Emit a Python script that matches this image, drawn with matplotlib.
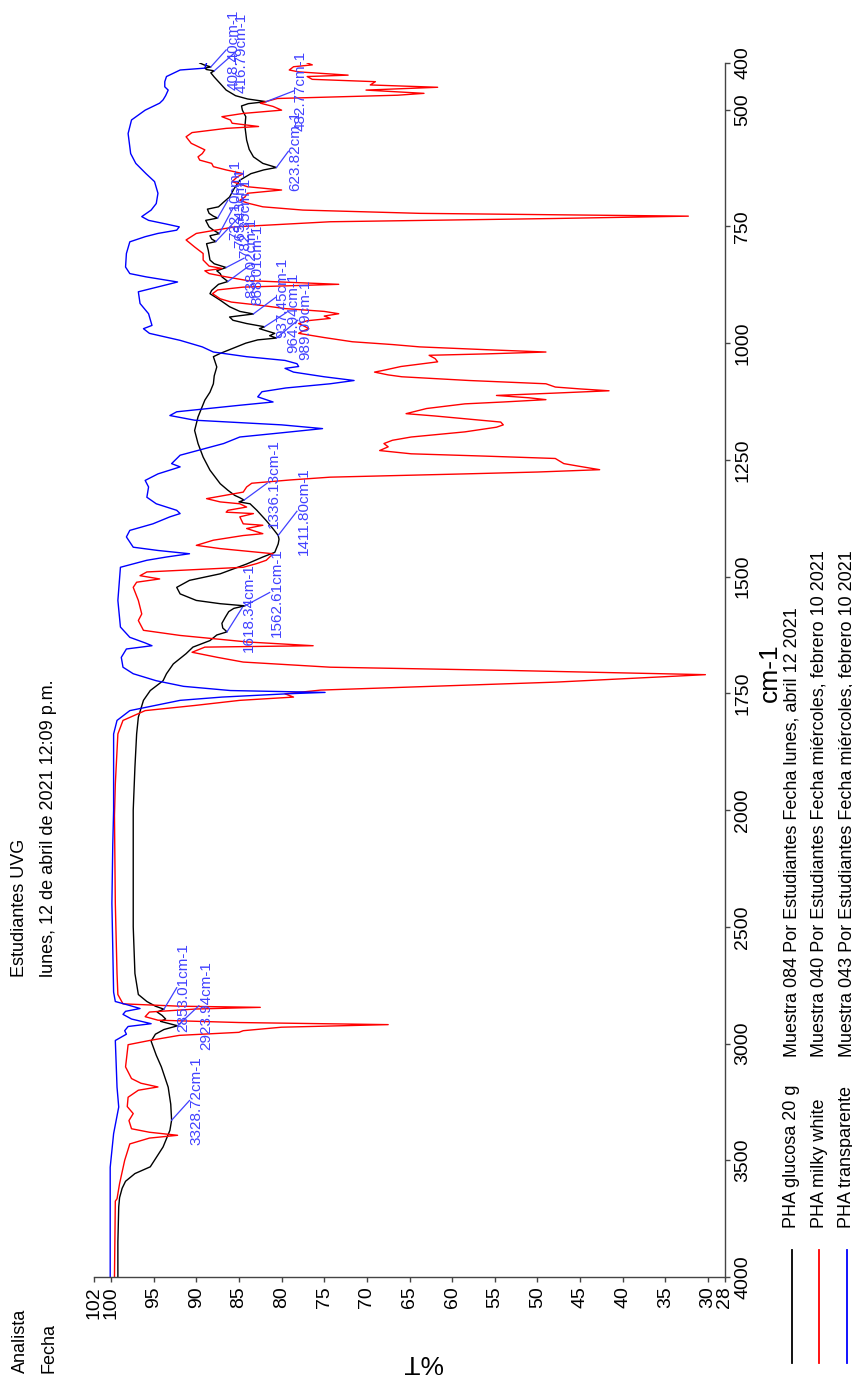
import numpy as np
import matplotlib.pyplot as plt
from matplotlib.lines import Line2D

plt.rcParams['font.family'] = ['Liberation Sans', 'DejaVu Sans']

# (cm-1, %T) for each sample
glucosa = np.array([
    (400, 89.6), (404, 89.1), (408.4, 88.3), (411, 89.0), (414, 88.8), (416.8, 87.9), (421, 88.3),
    (430, 87.9), (444, 87.2), (458, 86.5), (470, 85.4), (477, 84.0), (482.8, 81.8), (487, 83.9),
    (492, 84.7), (501, 84.6), (515, 84.2), (536, 84.3), (565, 84.1), (585, 83.8), (601, 83.3),
    (615, 82.2), (623.8, 80.6), (629, 82.1), (637, 83.6), (651, 84.9), (670, 85.6), (687, 86.1),
    (698, 86.8), (708, 87.4), (713, 88.7), (722, 88.5), (728, 88.0), (732.1, 87.5), (737, 88.9),
    (751, 88.5), (758, 88.0), (765.4, 87.3), (770, 88.4), (777, 88.2), (782.4, 87.7), (787, 88.8),
    (801, 88.6), (822, 88.4), (830, 87.9), (838, 86.5), (845, 87.6), (851, 87.2), (858, 87.0),
    (868, 86.3), (874, 87.4), (887, 88.2), (894, 88.4), (908, 87.2), (922, 86.1), (932, 84.9),
    (937.5, 83.3), (944, 86.1), (951, 85.7), (958, 84.1), (964.9, 82.0), (969, 82.6), (975, 81.5),
    (979, 80.8), (984, 81.4), (989.1, 80.6), (993, 82.8), (1000, 84.2), (1008, 85.3), (1022, 87.2),
    (1029, 88.0), (1040, 87.8), (1051, 87.6), (1070, 87.9), (1087, 88.0), (1105, 88.4), (1122, 89.0),
    (1158, 89.8), (1187, 90.2), (1215, 89.8), (1244, 89.2), (1272, 88.4), (1301, 87.2), (1315, 86.3),
    (1326, 85.5), (1331, 84.9), (1336.1, 84.4), (1340, 85.0), (1344, 83.7), (1358, 82.9), (1380, 81.8),
    (1400, 80.9), (1411.8, 80.4), (1420, 80.3), (1430, 80.4), (1448, 80.8), (1458, 82.2), (1473, 84.1),
    (1494, 87.2), (1508, 90.8), (1523, 92.3), (1537, 91.9), (1551, 90.0), (1558, 87.2), (1562.6, 84.3),
    (1568, 85.6), (1575, 86.2), (1587, 86.6), (1600, 87.0), (1610, 86.9), (1618.3, 86.4), (1625, 87.6),
    (1637, 88.4), (1651, 90.4), (1665, 91.2), (1687, 92.7), (1708, 93.5), (1723, 93.9), (1744, 95.4),
    (1765, 96.2), (1801, 96.8), (1837, 97.0), (1908, 97.2), (2000, 97.4), (2200, 97.4), (2500, 97.4),
    (2700, 97.2), (2790, 96.8), (2820, 95.8), (2840, 94.8), (2853, 93.8), (2865, 94.6), (2880, 94.0),
    (2895, 93.6), (2905, 94.2), (2923.9, 92.2), (2940, 93.8), (2960, 94.8), (2990, 95.3), (3050, 94.7),
    (3100, 94.1), (3187, 93.3), (3260, 93.0), (3328.7, 92.9), (3372, 93.1), (3443, 93.9), (3500, 94.9),
    (3528, 95.4), (3557, 97.2), (3590, 98.3), (3620, 98.7), (3660, 99.0), (3700, 99.1), (3850, 99.2),
    (4000, 99.2),
])

milky = np.array([
    (400, 77.0), (404, 76.4), (408, 78.6), (415, 79.1), (419, 78.0), (426, 72.2), (429, 77.0),
    (435, 76.4), (440, 69.0), (447, 69.6), (452, 61.7), (458, 70.1), (465, 63.3), (469, 66.4),
    (476, 80.5), (486, 82.5), (493, 81.0), (501, 80.0), (508, 84.5), (515, 87.0), (522, 86.0),
    (529, 85.8), (536, 82.7), (540, 86.5), (549, 90.5), (558, 91.2), (572, 90.6), (586, 89.0),
    (594, 89.3), (601, 89.8), (608, 89.6), (615, 88.2), (622, 88.0), (629, 86.5), (637, 84.5),
    (644, 85.2), (654, 85.8), (665, 84.0), (672, 80.0), (679, 84.0), (687, 84.3), (694, 84.9),
    (700, 84.0), (708, 82.2), (715, 77.5), (722, 63.8), (728, 32.3), (733, 47.9), (740, 74.3),
    (751, 85.5), (765, 90.0), (779, 91.2), (794, 90.2), (808, 89.2), (822, 89.2), (835, 88.5),
    (840, 87.0), (845, 89.0), (851, 88.5), (858, 86.5), (866, 84.0), (874, 73.3), (880, 84.5),
    (886, 87.5), (894, 88.1), (905, 87.2), (912, 85.9), (920, 82.0), (926, 79.6), (932, 75.0),
    (937, 73.3), (942, 75.0), (947, 74.3), (952, 77.0), (958, 78.0), (964, 77.3), (969, 76.8),
    (974, 77.5), (979, 78.0), (988, 75.0), (997, 71.7), (1003, 67.0), (1008, 63.8), (1014, 56.0),
    (1019, 49.0), (1023, 56.0), (1026, 62.7), (1033, 62.0), (1040, 61.7), (1050, 66.0), (1058, 68.0),
    (1062, 69.1), (1068, 67.5), (1072, 65.9), (1080, 58.0), (1087, 49.0), (1094, 47.9), (1098, 45.0),
    (1102, 41.6), (1107, 48.0), (1112, 54.8), (1117, 51.0), (1121, 49.0), (1126, 54.0), (1130, 58.5),
    (1140, 63.0), (1151, 65.4), (1156, 62.0), (1162, 58.5), (1169, 54.3), (1175, 54.0), (1180, 54.8),
    (1190, 58.5), (1201, 64.8), (1208, 67.0), (1215, 68.0), (1222, 67.5), (1230, 68.5), (1237, 64.8),
    (1242, 56.0), (1247, 47.9), (1258, 46.9), (1264, 45.0), (1271, 42.7), (1276, 50.0), (1280, 58.5),
    (1287, 74.3), (1293, 79.0), (1300, 83.5), (1308, 84.1), (1319, 84.5), (1333, 88.8), (1340, 87.2),
    (1344, 84.9), (1351, 84.1), (1358, 86.3), (1362, 86.5), (1365, 83.3), (1372, 84.9), (1387, 84.5),
    (1390, 82.2), (1397, 84.1), (1408, 82.2), (1412, 84.5), (1422, 88.0), (1433, 90.0), (1440, 87.2),
    (1451, 81.0), (1465, 81.8), (1472, 82.9), (1480, 84.5), (1490, 95.8), (1498, 96.6), (1505, 94.3),
    (1512, 97.0), (1523, 97.4), (1551, 96.8), (1580, 96.4), (1594, 96.8), (1615, 96.2), (1626, 91.9),
    (1633, 88.0), (1640, 84.0), (1648, 76.3), (1651, 89.0), (1662, 90.5), (1673, 87.5), (1683, 84.5),
    (1694, 74.3), (1701, 53.2), (1710, 30.3), (1726, 47.9), (1743, 75.4), (1751, 79.6), (1758, 78.6),
    (1765, 84.9), (1776, 90.2), (1787, 96.0), (1808, 98.6), (1837, 99.2), (1873, 99.3), (1944, 99.5),
    (2023, 99.6), (2400, 99.5), (2700, 99.3), (2790, 99.2), (2830, 98.6), (2840, 92.0), (2845, 82.5),
    (2852, 90.0), (2865, 95.5), (2885, 96.0), (2900, 94.5), (2910, 85.0), (2919, 67.5), (2930, 80.0),
    (2945, 84.5), (2952, 85.0), (2965, 92.0), (2987, 95.5), (3005, 98.0), (3100, 98.3), (3150, 97.6),
    (3170, 96.5), (3186, 94.5), (3200, 96.8), (3230, 98.0), (3270, 98.1), (3300, 97.4), (3330, 97.9),
    (3365, 97.6), (3380, 95.5), (3393, 92.2), (3405, 95.5), (3430, 97.8), (3500, 98.4), (3600, 99.0),
    (3665, 99.3), (3675, 99.5), (4000, 99.6),
])

transparente = np.array([
    (400, 88.8), (411, 89.0), (415, 91.9), (429, 93.5), (440, 93.7), (451, 93.7), (458, 93.3),
    (470, 93.6), (479, 93.9), (486, 94.3), (501, 96.0), (522, 97.6), (551, 98.0), (594, 97.7),
    (615, 97.1), (637, 95.9), (654, 94.9), (679, 94.5), (701, 94.7), (715, 95.3), (729, 96.4),
    (737, 95.6), (745, 93.5), (751, 92.0), (758, 92.3), (765, 94.5), (772, 96.0), (783, 97.8),
    (808, 98.2), (837, 98.3), (851, 97.8), (858, 95.9), (869, 92.2), (875, 93.5), (890, 96.8),
    (915, 96.6), (937, 95.6), (962, 95.2), (969, 96.2), (979, 95.5), (994, 91.9), (1008, 89.3),
    (1019, 88.0), (1029, 84.1), (1037, 79.6), (1044, 78.2), (1050, 78.0), (1054, 79.6), (1062, 78.6),
    (1072, 75.0), (1080, 71.5), (1087, 74.3), (1096, 79.5), (1104, 82.3), (1115, 82.8), (1126, 81.0),
    (1133, 84.9), (1147, 92.3), (1155, 93.1), (1165, 90.2), (1175, 80.0), (1183, 75.2), (1192, 80.0),
    (1201, 84.9), (1215, 86.8), (1240, 91.9), (1258, 92.9), (1265, 91.9), (1280, 94.5), (1294, 96.0),
    (1308, 95.6), (1330, 95.8), (1344, 94.7), (1358, 92.3), (1365, 91.9), (1372, 93.1), (1387, 95.1),
    (1401, 97.8), (1415, 98.2), (1437, 97.4), (1444, 94.5), (1451, 90.8), (1458, 93.5), (1465, 95.8),
    (1480, 98.9), (1551, 99.2), (1608, 98.9), (1630, 97.8), (1642, 96.0), (1648, 95.2), (1655, 98.2),
    (1673, 98.8), (1694, 98.6), (1708, 97.4), (1723, 94.7), (1735, 91.5), (1744, 86.0), (1748, 74.9),
    (1751, 79.4), (1758, 87.0), (1765, 91.9), (1787, 97.8), (1808, 99.3), (1837, 99.7), (2000, 99.7),
    (2150, 99.8), (2400, 99.9), (2780, 99.7), (2820, 99.5), (2835, 98.0), (2850, 96.6), (2862, 98.3),
    (2875, 98.6), (2895, 97.6), (2915, 95.3), (2927, 98.0), (2945, 98.4), (2960, 98.2), (2987, 99.5),
    (3187, 99.3), (3272, 99.1), (3386, 99.7), (3530, 100.1), (4000, 100.1),
])

series_names = ["PHA glucosa 20 g", "PHA milky white", "PHA transparente"]
series_info = [
    "Muestra 084 Por Estudiantes Fecha lunes, abril 12 2021",
    "Muestra 040 Por Estudiantes Fecha miércoles, febrero 10 2021",
    "Muestra 043 Por Estudiantes Fecha miércoles, febrero 10 2021",
]
series_colors = ["black", "#ff0000", "#0000ff"]

# peaks marked on the glucosa spectrum, with the %T / cm-1 spot where each label sits
peak_values = [408.40, 416.79, 482.77, 623.82, 732.10, 765.43, 782.35, 838.02, 868.01,
               937.45, 964.94, 989.09, 1336.13, 1411.80, 1562.61, 1618.34, 2853.01, 2923.94, 3328.72]
label_t = [86.5, 85.5, 78.6, 79.2, 86.3, 85.7, 85.1, 84.4, 83.7,
           80.7, 79.4, 78.1, 81.7, 78.2, 81.4, 84.6, 92.3, 89.7, 90.8]
label_nu = [372, 378, 460, 589, 694, 711, 732, 818, 833,
            902, 934, 951, 1300, 1360, 1534, 1566, 2761, 2838, 3244]

t_ticks = [102, 100, 95, 90, 85, 80, 75, 70, 65, 60, 55, 50, 45, 40, 35, 30, 28]
nu_ticks = [400, 500, 750, 1000, 1250, 1500, 1750, 2000, 2500, 3000, 3500, 4000]

W, H = 853, 1376


def fx(x):
    return x / W


def fy(y):
    return 1 - y / H


# above 2000 cm-1 the scale is compressed by half
def fwd(v):
    v = np.asarray(v, dtype=float)
    return np.where(v <= 2000, v, 2000 + (v - 2000) / 2)


def inv(u):
    u = np.asarray(u, dtype=float)
    return np.where(u <= 2000, u, 2000 + (u - 2000) * 2)


fig = plt.figure(figsize=(W / 100, H / 100), dpi=100)
ax = fig.add_axes([fx(94), fy(1277), (725 - 94) / W, (1277 - 63) / H])

for data, c in zip([glucosa, milky, transparente], series_colors):
    ax.plot(data[:, 1], data[:, 0], color=c, lw=1.0)

ax.set_yscale('function', functions=(fwd, inv))
ax.set_xlim(102, 28)
ax.set_ylim(4000, 400)

for s in ['top', 'left']:
    ax.spines[s].set_visible(False)
for s in ['bottom', 'right']:
    ax.spines[s].set_color('#444444')
    ax.spines[s].set_linewidth(1.0)

ax.yaxis.tick_right()
ax.set_xticks(t_ticks)
ax.set_xticklabels([str(t) for t in t_ticks], rotation=90, fontsize=14)
ax.set_yticks(nu_ticks)
ax.set_yticklabels([str(n) for n in nu_ticks], rotation=90, va='center', fontsize=14)
ax.tick_params(direction='out', length=3.5, width=1.0, color='#444444', pad=3)
ax.minorticks_off()

# peak labels
lab_color = '#4040ff'
for v, tt, nn in zip(peak_values, label_t, label_nu):
    tp = np.interp(v, glucosa[:, 0], glucosa[:, 1])
    ax.plot([tp, tt], [v, nn], color=lab_color, lw=0.9, clip_on=False)
    ax.text(tt, nn, f"{v:.2f}cm-1", color=lab_color, fontsize=11, rotation=90,
            rotation_mode='anchor', ha='center', va='top')

# axis titles
fig.text(fx(770), fy(673), "cm-1", rotation=90, ha='center', va='center', fontsize=19)
fig.text(fx(422), fy(1362), "%T", rotation=180, ha='center', va='center', fontsize=19)

# header
fig.text(fx(20), fy(1373), "Analista", rotation=90, ha='center', va='bottom', fontsize=13)
fig.text(fx(49), fy(1373), "Fecha", rotation=90, ha='center', va='bottom', fontsize=13)
fig.text(fx(20), fy(977), "Estudiantes UVG", rotation=90, ha='center', va='bottom', fontsize=13)
fig.text(fx(49), fy(977), "lunes, 12 de abril de 2021 12:09 p.m.", rotation=90,
         ha='center', va='bottom', fontsize=13)

# legend
for i, (name, info, c) in enumerate(zip(series_names, series_info, series_colors)):
    x = 792 + 27.5 * i
    fig.add_artist(Line2D([fx(x), fx(x)], [fy(1363), fy(1250)], color=c, lw=1.3))
    fig.text(fx(x), fy(1228), name, rotation=90, ha='center', va='bottom', fontsize=13)
    fig.text(fx(x), fy(1057), info, rotation=90, ha='center', va='bottom', fontsize=13)

fig.savefig('out.png', dpi=100)
